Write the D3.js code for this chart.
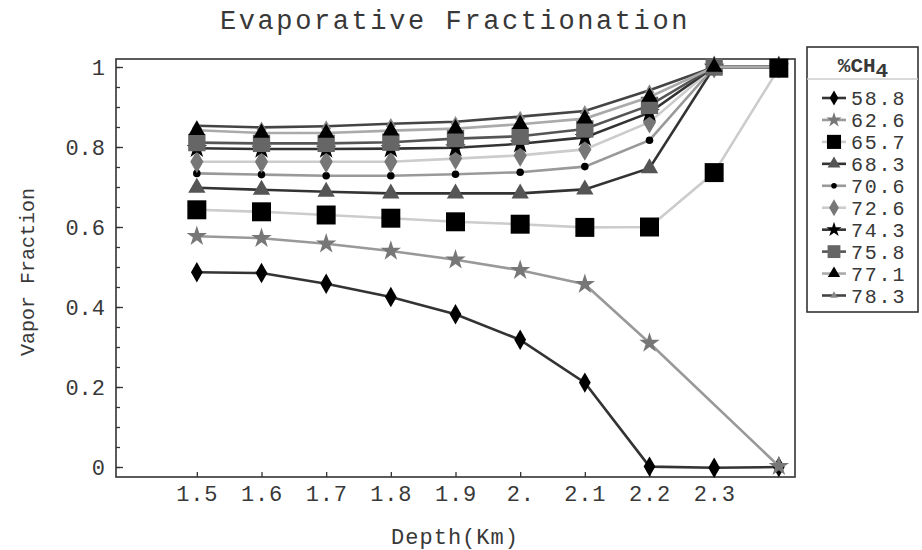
<!DOCTYPE html>
<html>
<head>
<meta charset="utf-8">
<script src="https://cdn.jsdelivr.net/npm/d3@7"></script>
<style>
  body { margin: 0; background: #fff; }
  text { font-family: "Liberation Mono", "Courier New", monospace; fill: #383838; }
</style>
</head>
<body>
<div id="chart"></div>
<script>
// Data
var depths = [1.5, 1.6, 1.7, 1.8, 1.9, 2.0, 2.1, 2.2, 2.3, 2.4];
var xTickValues = [1.5, 1.6, 1.7, 1.8, 1.9, 2.0, 2.1, 2.2, 2.3];
var xTickLabels = ["1.5", "1.6", "1.7", "1.8", "1.9", "2.", "2.1", "2.2", "2.3"];
var yTickValues = [0, 0.2, 0.4, 0.6, 0.8, 1];
var yTickLabels = ["0", "0.2", "0.4", "0.6", "0.8", "1"];
var ch4 = ["58.8", "62.6", "65.7", "68.3", "70.6", "72.6", "74.3", "75.8", "77.1", "78.3"];

var v588 = [0.487, 0.485, 0.458, 0.425, 0.382, 0.318, 0.211, 0.001, -0.002, 0.0];
var v626 = [0.577, 0.572, 0.558, 0.540, 0.518, 0.492, 0.457, 0.310, null, 0.002];
var v657 = [0.643, 0.638, 0.630, 0.622, 0.613, 0.607, 0.599, 0.600, 0.736, 0.997];
var v683 = [0.698, 0.693, 0.688, 0.684, 0.684, 0.684, 0.694, 0.747, 1.0, 1.0];
var v706 = [0.734, 0.731, 0.728, 0.728, 0.732, 0.737, 0.751, 0.817, 1.0, 1.0];
var v726 = [0.763, 0.763, 0.763, 0.763, 0.771, 0.779, 0.794, 0.862, 1.0, 1.0];
var v743 = [0.797, 0.795, 0.795, 0.796, 0.798, 0.808, 0.824, 0.886, 1.0, 1.0];
var v758 = [0.811, 0.809, 0.809, 0.812, 0.821, 0.827, 0.845, 0.904, 1.0, 1.0];
var v771 = [0.842, 0.835, 0.835, 0.841, 0.846, 0.857, 0.871, 0.925, 1.0, 1.0];
var v783 = [0.853, 0.849, 0.852, 0.858, 0.863, 0.876, 0.890, 0.942, 1.0, 1.0];
var seriesValues = [v588, v626, v657, v683, v706, v726, v743, v758, v771, v783];

// Styles per series
var lineColors = ["#333", "#999", "#ccc", "#333", "#999", "#ccc", "#333", "#555", "#aaa", "#444"];
var markerColors = ["#000", "#777", "#000", "#555", "#000", "#777", "#000", "#666", "#000", "#888"];
var markerTypes = [d3.symbolDiamond, d3.symbolStar, d3.symbolSquare, d3.symbolTriangle, d3.symbolCircle,
                   d3.symbolDiamond, d3.symbolStar, d3.symbolSquare, d3.symbolTriangle, d3.symbolTriangle];
var markerSizes = [120, 130, 360, 130, 45, 150, 130, 300, 120, 45];
// the big black squares sit on top of the others at 2.4
var drawOrder = [0, 1, 3, 4, 5, 6, 7, 9, 8, 2];

var svgWidth = 922;
var svgHeight = 550;
var frame = { left: 116, right: 795, top: 59, bottom: 477 };

var svg = d3.select("#chart")
    .append("svg")
    .attr("width", svgWidth)
    .attr("height", svgHeight);

var xScale = d3.scaleLinear()
    .domain([1.375, 2.425])
    .range([frame.left, frame.right]);
var yScale = d3.scaleLinear()
    .domain([-0.025, 1.02])
    .range([frame.bottom, frame.top]);

// Axes with inward ticks
var bottomAxis = d3.axisBottom(xScale)
    .tickValues(xTickValues)
    .tickSize(-5)
    .tickFormat((d, i) => xTickLabels[i]);
var gx = svg.append("g")
    .attr("transform", `translate(0, ${frame.bottom})`)
    .call(bottomAxis);
gx.select(".domain").remove();
gx.selectAll("line").attr("stroke", "#333").attr("stroke-width", 1.3);
gx.selectAll("text")
    .attr("y", 24)
    .attr("dy", 0)
    .style("font-size", "22px")
    .style("letter-spacing", "0.8px")
    .style("font-family", "Liberation Mono")
    .attr("fill", "#383838");

var minorY = d3.range(0, 1.0001, 0.05);
var gyMinor = svg.append("g")
    .attr("transform", `translate(${frame.left}, 0)`)
    .call(d3.axisLeft(yScale).tickValues(minorY).tickSize(-4).tickFormat(""));
gyMinor.select(".domain").remove();
gyMinor.selectAll("line").attr("stroke", "#333").attr("stroke-width", 1.3);

var leftAxis = d3.axisLeft(yScale)
    .tickValues(yTickValues)
    .tickSize(-7)
    .tickFormat((d, i) => yTickLabels[i]);
var gy = svg.append("g")
    .attr("transform", `translate(${frame.left}, 0)`)
    .call(leftAxis);
gy.select(".domain").remove();
gy.selectAll("line").attr("stroke", "#333").attr("stroke-width", 1.3);
gy.selectAll("text")
    .attr("x", -11)
    .attr("dy", "0.36em")
    .style("font-size", "22px")
    .style("font-family", "Liberation Mono")
    .attr("fill", "#383838");

// Frame
svg.append("rect")
    .attr("x", frame.left)
    .attr("y", frame.top)
    .attr("width", frame.right - frame.left)
    .attr("height", frame.bottom - frame.top)
    .attr("fill", "none")
    .attr("stroke", "#333")
    .attr("stroke-width", 1.6);

// Series
var line = d3.line()
    .x(d => xScale(d.x))
    .y(d => yScale(d.y));

var plot = svg.append("g");
drawOrder.forEach(function (s) {
    var pts = depths.map((x, i) => ({ x: x, y: seriesValues[s][i] }))
        .filter(d => d.y !== null);
    var g = plot.append("g");
    g.append("path")
        .datum(pts)
        .attr("d", line)
        .attr("fill", "none")
        .attr("stroke", lineColors[s])
        .attr("stroke-width", 2.6);
    g.selectAll("path.mark")
        .data(pts)
        .enter()
        .append("path")
        .attr("class", "mark")
        .attr("transform", d => `translate(${xScale(d.x)}, ${yScale(d.y)})`)
        .attr("d", d3.symbol().type(markerTypes[s]).size(markerSizes[s]))
        .attr("fill", markerColors[s]);
});

// Title
svg.append("text")
    .attr("x", 455)
    .attr("y", 29)
    .style("text-anchor", "middle")
    .style("font-size", "27px")
    .style("letter-spacing", "2.6px")
    .text("Evaporative Fractionation");

// Axis labels
svg.append("text")
    .attr("x", 455)
    .attr("y", 544)
    .style("text-anchor", "middle")
    .style("font-size", "22px")
    .style("letter-spacing", "1px")
    .text("Depth(Km)");
svg.append("text")
    .attr("transform", "rotate(-90)")
    .attr("x", -272)
    .attr("y", 34)
    .style("text-anchor", "middle")
    .style("font-size", "20px")
    .text("Vapor Fraction");

// Legend
var legend = svg.append("g");
legend.append("rect")
    .attr("x", 807)
    .attr("y", 47)
    .attr("width", 111)
    .attr("height", 265)
    .attr("fill", "none")
    .attr("stroke", "#333")
    .attr("stroke-width", 1.6);
legend.append("line")
    .attr("x1", 807).attr("x2", 918)
    .attr("y1", 79).attr("y2", 79)
    .attr("stroke", "#ccc")
    .attr("stroke-width", 1.5);
var header = legend.append("text")
    .attr("x", 863)
    .attr("y", 72)
    .style("text-anchor", "middle")
    .style("font-size", "21px")
    .style("font-weight", "bold");
header.append("tspan").text("%CH");
header.append("tspan").attr("dy", 5).text("4");

var legendY = d3.scaleLinear().domain([0, 9]).range([98, 295.5]);
ch4.forEach(function (label, s) {
    var y = legendY(s);
    legend.append("line")
        .attr("x1", 822).attr("x2", 846)
        .attr("y1", y).attr("y2", y)
        .attr("stroke", lineColors[s])
        .attr("stroke-width", 2.6);
    legend.append("path")
        .attr("transform", `translate(834, ${y})`)
        .attr("d", d3.symbol().type(markerTypes[s]).size(markerSizes[s] * 0.55))
        .attr("fill", markerColors[s]);
    legend.append("text")
        .attr("x", 851)
        .attr("y", y + 7)
        .style("font-size", "20px")
        .style("letter-spacing", "1.8px")
        .text(label);
});
</script>
</body>
</html>
